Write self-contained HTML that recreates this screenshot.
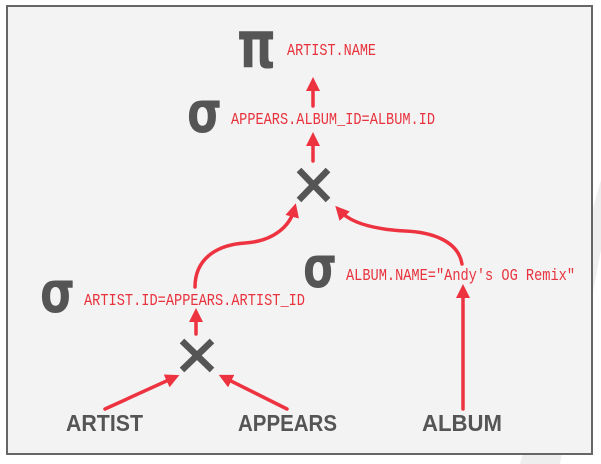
<!DOCTYPE html>
<html><head><meta charset="utf-8"><style>
html,body{margin:0;padding:0;background:#fff;width:601px;height:464px;overflow:hidden}
svg{display:block}
.m{font-family:"Liberation Mono",monospace;font-size:17px;fill:#e8323d}
.g{font-family:"DejaVu Sans",sans-serif;fill:#555;font-weight:bold}
.p{font-family:"DejaVu Sans",sans-serif;fill:#555;font-weight:bold}
.t{font-family:"Liberation Sans Narrow","Liberation Sans",sans-serif;font-weight:bold;font-size:23px;fill:#555}
</style></head><body>
<svg width="601" height="464" viewBox="0 0 601 464">
<defs><marker id="ah" markerWidth="4" markerHeight="4" refX="2" refY="2" orient="auto" markerUnits="strokeWidth"><path d="M0,0 L4,2 L0,4 z" fill="#ee3340"/></marker></defs>
<polygon points="601,180 601,250 560,464 520,464" fill="#eeeeee"/>
<rect x="7" y="6" width="585" height="448" fill="#f3f3f3" stroke="#666" stroke-width="2"/>
<g stroke="#ee3340" stroke-width="3.5" fill="none" stroke-linecap="round" marker-end="url(#ah)">
<line x1="313" y1="106" x2="313" y2="84"/>
<line x1="313" y1="161" x2="313" y2="139"/>
<path d="M195,287 C195,260 215,245 245,243 C275,241 290,225 294,210"/>
<path d="M462,264 C458,240 430,232 405,231 C370,229 350,222 340,211"/>
<line x1="463" y1="409" x2="463" y2="291"/>
<line x1="196" y1="334" x2="196" y2="315"/>
<line x1="105" y1="409" x2="173" y2="378"/>
<line x1="287" y1="409" x2="225" y2="378"/>
</g>
<text class="p" x="237" y="67" font-size="66" textLength="39" lengthAdjust="spacingAndGlyphs">π</text>
<text class="m" x="287" y="55" textLength="89" lengthAdjust="spacingAndGlyphs">ARTIST.NAME</text>
<text class="g" x="187" y="132" font-size="58" textLength="35" lengthAdjust="spacingAndGlyphs">σ</text>
<text class="m" x="231" y="124" textLength="204" lengthAdjust="spacingAndGlyphs">APPEARS.ALBUM_ID=ALBUM.ID</text>
<g stroke="#555" stroke-width="6.5"><line x1="299" y1="170" x2="328" y2="200"/><line x1="328" y1="170" x2="299" y2="200"/></g>
<text class="g" x="303" y="287" font-size="58" textLength="34" lengthAdjust="spacingAndGlyphs">σ</text>
<text class="m" x="346" y="280" textLength="229" lengthAdjust="spacingAndGlyphs">ALBUM.NAME="Andy's OG Remix"</text>
<text class="g" x="40" y="312" font-size="58" textLength="35" lengthAdjust="spacingAndGlyphs">σ</text>
<text class="m" x="84" y="305" textLength="221" lengthAdjust="spacingAndGlyphs">ARTIST.ID=APPEARS.ARTIST_ID</text>
<g stroke="#555" stroke-width="6.5"><line x1="182" y1="341" x2="212" y2="370"/><line x1="212" y1="341" x2="182" y2="370"/></g>
<text class="t" x="66" y="431" textLength="77" lengthAdjust="spacingAndGlyphs">ARTIST</text>
<text class="t" x="238" y="431" textLength="99" lengthAdjust="spacingAndGlyphs">APPEARS</text>
<text class="t" x="422" y="431" textLength="80" lengthAdjust="spacingAndGlyphs">ALBUM</text>
</svg>
</body></html>
